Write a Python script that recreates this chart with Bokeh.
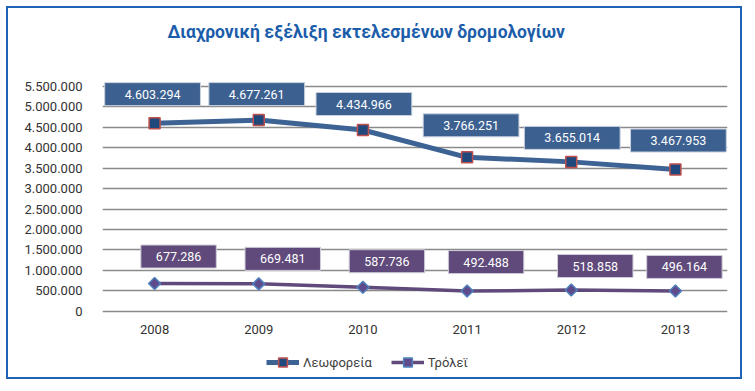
import math
from bokeh.plotting import figure
from bokeh.models import ColumnDataSource, Range1d, FixedTicker, Legend, LegendItem
from bokeh.embed import file_html
from bokeh.resources import INLINE
from bokeh.core.properties import value

# ---- data ----
years = ["2008", "2009", "2010", "2011", "2012", "2013"]
buses = [4603294, 4677261, 4434966, 3766251, 3655014, 3467953]
trolleys = [677286, 669481, 587736, 492488, 518858, 496164]
y_ticks = [0, 500000, 1000000, 1500000, 2000000, 2500000, 3000000,
           3500000, 4000000, 4500000, 5000000, 5500000]
y_tick_labels = ["0", "500.000", "1.000.000", "1.500.000", "2.000.000", "2.500.000",
                 "3.000.000", "3.500.000", "4.000.000", "4.500.000", "5.000.000", "5.500.000"]
title_text = "Διαχρονική εξέλιξη εκτελεσμένων δρομολογίων"
series_names = ["Λεωφορεία", "Τρόλεϊ"]

# label placement (screen px, style only)
bus_dx = [-2, -2, 1, 4, 1, 3]
bus_dy = [-29, -26, -26, -32, -24, -29]
tro_dx = [24, 24, 24, 19, 24, 9]
tro_dy = [-27, -25, -26, -29, -24, -24]

def fmt(v):
    return f"{v:,}".replace(",", ".")

FONT = "Roboto"
BUS_LINE = "#3c6394"
BUS_BOX = "#3c6191"
TRO_LINE = "#5f4a7b"
TRO_BOX = "#5f4a7b"

# ---- layout (canvas pixels) ----
W, H = 736, 373
FRAME_L, FRAME_R = 94, 719
FRAME_T, FRAME_B = 44, 373          # frame extended so legend / year labels sit inside it
Y_TOP_PX, Y_ZERO_PX = 78, 302.7     # where 5.500.000 and 0 fall
y_max = y_ticks[-1]
k = y_max / (Y_ZERO_PX - Y_TOP_PX)  # data units per pixel
y_range = Range1d(-(FRAME_B - Y_ZERO_PX) * k, y_max + (Y_TOP_PX - FRAME_T) * k)

p = figure(x_range=years, y_range=y_range, width=W, height=H,
           output_backend="svg", toolbar_location=None,
           min_border_left=FRAME_L, min_border_right=W - FRAME_R,
           min_border_top=FRAME_T, min_border_bottom=H - FRAME_B)
p.styles = {"margin": "6px 0 0 6px", "border": "2px solid #1f63b4"}
p.outline_line_color = None
p.background_fill_color = "white"
p.border_fill_color = "white"

p.title.text = title_text
p.title.align = "left"
p.title.offset = 65
p.title.standoff = 21
p.title.text_font = FONT
p.title.text_font_size = "17.5px"
p.title.text_font_style = "bold"
p.title.text_color = "#1b5daa"

p.xgrid.grid_line_color = None
p.ygrid.grid_line_color = "#8a8a8a"
p.ygrid.grid_line_width = 1.5

p.xaxis.visible = False
p.yaxis.ticker = FixedTicker(ticks=y_ticks)
p.yaxis.major_label_overrides = dict(zip(y_ticks, y_tick_labels))
p.yaxis.axis_line_color = None
p.yaxis.major_tick_line_color = None
p.yaxis.minor_tick_line_color = None
p.yaxis.major_tick_out = 0
p.yaxis.major_tick_in = 0
p.yaxis.major_label_text_font = FONT
p.yaxis.major_label_text_font_size = "13px"
p.yaxis.major_label_text_color = "#333333"
p.yaxis.major_label_standoff = 20

# category labels under the zero line
p.text(x=years, y=[0] * len(years), text=years, y_offset=18,
       text_font=value(FONT), text_font_size="13px", text_color="#333333",
       text_align="center", text_baseline="middle")

bl = p.line(years, buses, line_width=5, line_color=BUS_LINE)
bs = p.scatter(years, buses, marker="square", size=11, fill_color="#1f497d",
               line_color="#c0504d", line_width=1.5)
tl = p.line(years, trolleys, line_width=3.5, line_color=TRO_LINE)
ts = p.scatter(years, trolleys, marker="square", angle=math.pi / 4, size=8.5,
               fill_color="#5f4b8b", line_color="#4f81bd", line_width=1.5)

bus_src = ColumnDataSource(dict(x=years, y=buses, t=[fmt(v) for v in buses], dx=bus_dx, dy=bus_dy))
tro_src = ColumnDataSource(dict(x=years, y=trolleys, t=[fmt(v) for v in trolleys], dx=tro_dx, dy=tro_dy))

p.text(x="x", y="y", text="t", x_offset="dx", y_offset="dy", source=bus_src,
       text_font=value(FONT), text_font_size="12.5px", text_color="white",
       text_align="center", text_baseline="middle",
       background_fill_color=BUS_BOX, border_line_color="#c9d2de", border_line_width=1,
       padding=dict(left=20, right=20, top=7, bottom=7))
p.text(x="x", y="y", text="t", x_offset="dx", y_offset="dy", source=tro_src,
       text_font=value(FONT), text_font_size="12.5px", text_color="white",
       text_align="center", text_baseline="middle",
       background_fill_color=TRO_BOX, border_line_color="#d0ccd8", border_line_width=1,
       padding=dict(left=15, right=15, top=7, bottom=7))

legend = Legend(items=[LegendItem(label=series_names[0], renderers=[bl, bs]),
                       LegendItem(label=series_names[1], renderers=[tl, ts])],
                orientation="horizontal", location=(164, 8),
                glyph_width=33, glyph_height=22, label_standoff=4, spacing=19,
                padding=0, margin=0, border_line_color=None, background_fill_alpha=0,
                label_text_font=FONT, label_text_font_size="13px", label_text_color="#404040")
p.add_layout(legend)

open("out.html", "w").write(file_html(p, INLINE))
